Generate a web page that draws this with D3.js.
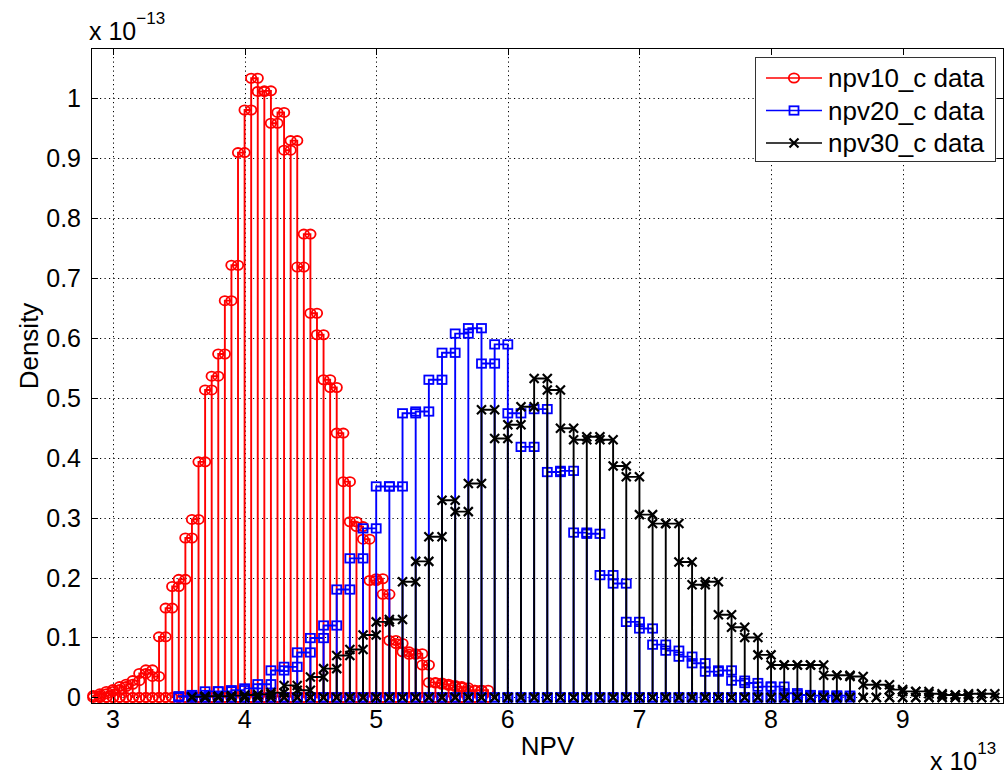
<!DOCTYPE html>
<html><head><meta charset="utf-8">
<script src="https://cdn.jsdelivr.net/npm/d3@7"></script>
<style>body{margin:0;background:#fff}</style>
</head><body><svg id="c" width="1007" height="775"></svg>
<script>
// ---------- data (densities in units of 1e-13, NPV in units of 1e13) ----------
const redStart = 2.85, redWidth = 0.05;
const redValues = [0.003,0.006,0.01,0.013,0.018,0.022,0.028,0.04,0.046,0.035,
  0.101,0.149,0.185,0.197,0.266,0.297,0.393,0.513,0.536,0.573,
  0.662,0.721,0.909,0.98,1.033,1.011,1.012,0.958,0.976,0.913,
  0.929,0.718,0.773,0.641,0.605,0.53,0.517,0.441,0.36,0.293,
  0.285,0.264,0.195,0.198,0.172,0.095,0.09,0.076,0.072,0.073,
  0.054,0.025,0.024,0.022,0.02,0.018,0.016,0.012,0.012,0.012];
const blueStart = 3.5, blueWidth = 0.1;
const blueValues = [0.002,0.004,0.01,0.01,0.012,0.015,0.022,0.045,0.051,0.075,
  0.099,0.12,0.18,0.232,0.282,0.352,0.352,0.474,0.477,0.53,
  0.575,0.607,0.616,0.557,0.589,0.474,0.418,0.481,0.376,0.378,
  0.275,0.273,0.204,0.19,0.126,0.115,0.088,0.078,0.068,0.057,
  0.043,0.045,0.028,0.024,0.018,0.018,0.007,0.004,0.003,0.003,0.003];
const blackStart = 3.6, blackWidth = 0.1;
const blackValues = [0.001,0.002,0.002,0.003,0.004,0.005,0.008,0.02,0.012,0.034,
  0.048,0.07,0.08,0.104,0.126,0.13,0.193,0.227,0.268,0.329,
  0.31,0.357,0.48,0.432,0.455,0.485,0.532,0.513,0.449,0.43,
  0.435,0.43,0.386,0.368,0.305,0.29,0.29,0.226,0.188,0.193,
  0.138,0.117,0.1,0.071,0.054,0.054,0.054,0.054,0.037,0.037,
  0.035,0.021,0.021,0.013,0.01,0.01,0.006,0.004,0.004,0.006,0.006];
const seriesNames = ["npv10_c data","npv20_c data","npv30_c data"];
const xTicks = [3,4,5,6,7,8,9];
const xTickLabels = ["3","4","5","6","7","8","9"];
const yTicks = [0,0.1,0.2,0.3,0.4,0.5,0.6,0.7,0.8,0.9,1];
const yTickLabels = ["0","0.1","0.2","0.3","0.4","0.5","0.6","0.7","0.8","0.9","1"];

// ---------- layout ----------
const L = 91, R = 1004, T = 48, B = 704;
const FONT = "'Liberation Sans', Arial, Helvetica, sans-serif";
const svg = d3.select("#c");
const x = d3.scaleLinear().domain([2.833, 9.77]).range([L, R]);
const y = d3.scaleLinear().domain([-0.011, 1.0835]).range([B, T]);

function outline(start, width, vals) {
  const pts = [];
  vals.forEach((h, i) => {
    const a = start + width * i, b = a + width;
    pts.push([a, 0], [a, h], [b, h], [b, 0]);
  });
  return pts;
}
const series = [
  {name: seriesNames[0], color: "#ff0000", marker: "circle", pts: outline(redStart, redWidth, redValues)},
  {name: seriesNames[1], color: "#0000ff", marker: "square", pts: outline(blueStart, blueWidth, blueValues)},
  {name: seriesNames[2], color: "#000000", marker: "cross", pts: outline(blackStart, blackWidth, blackValues)}
];

svg.append("rect").attr("x", L).attr("y", T).attr("width", R - L).attr("height", B - T).attr("fill", "#fff");

// grid
const grid = svg.append("g").attr("stroke", "#000").attr("stroke-width", 1).attr("stroke-dasharray", "1.2,3.3");
grid.selectAll(".gx").data(xTicks).join("line")
  .attr("x1", d => Math.round(x(d)) + 0.5).attr("x2", d => Math.round(x(d)) + 0.5)
  .attr("y1", T).attr("y2", B);
grid.selectAll(".gy").data(yTicks).join("line")
  .attr("y1", d => Math.round(y(d)) + 0.5).attr("y2", d => Math.round(y(d)) + 0.5)
  .attr("x1", L).attr("x2", R);

function drawMarker(g, m, px, py, color) {
  if (m === "circle") {
    g.append("ellipse").attr("cx", px).attr("cy", py).attr("rx", 5.2).attr("ry", 4.6)
      .attr("fill", "none").attr("stroke", color).attr("stroke-width", 1.8);
  } else if (m === "square") {
    g.append("rect").attr("x", px - 4.5).attr("y", py - 4.2).attr("width", 9).attr("height", 8.4)
      .attr("fill", "none").attr("stroke", color).attr("stroke-width", 1.8);
  } else {
    const s = 4.5;
    g.append("path").attr("d", `M${px - s},${py - s}L${px + s},${py + s}M${px - s},${py + s}L${px + s},${py - s}`)
      .attr("stroke", color).attr("stroke-width", 2.2).attr("fill", "none");
  }
}

const plot = svg.append("g");
series.forEach(s => {
  const line = d3.line().x(d => x(d[0])).y(d => y(d[1]));
  plot.append("path").attr("d", line(s.pts)).attr("fill", "none")
    .attr("stroke", s.color).attr("stroke-width", 1.9);
  const mg = plot.append("g");
  s.pts.forEach(p => drawMarker(mg, s.marker, x(p[0]), y(p[1]), s.color));
});

// axes box and ticks
const ax = svg.append("g").attr("stroke", "#000").attr("stroke-width", 1);
ax.append("rect").attr("x", L + 0.5).attr("y", T + 0.5).attr("width", R - L - 1).attr("height", B - T - 1)
  .attr("fill", "none");
const tl = 7;
xTicks.forEach(t => {
  const px = Math.round(x(t)) + 0.5;
  ax.append("line").attr("x1", px).attr("x2", px).attr("y1", B).attr("y2", B - tl);
  ax.append("line").attr("x1", px).attr("x2", px).attr("y1", T).attr("y2", T + tl);
});
yTicks.forEach(t => {
  const py = Math.round(y(t)) + 0.5;
  ax.append("line").attr("y1", py).attr("y2", py).attr("x1", L).attr("x2", L + tl);
  ax.append("line").attr("y1", py).attr("y2", py).attr("x1", R).attr("x2", R - tl);
});

// tick labels
const tlab = svg.append("g").attr("font-family", FONT).attr("font-size", 25).attr("fill", "#000");
xTicks.forEach((t, i) => {
  tlab.append("text").attr("x", x(t)).attr("y", 728).attr("text-anchor", "middle").text(xTickLabels[i]);
});
yTicks.forEach((t, i) => {
  tlab.append("text").attr("x", 81).attr("y", y(t) + 9).attr("text-anchor", "end").text(yTickLabels[i]);
});

// exponent labels
const e1 = svg.append("text").attr("font-family", FONT).attr("font-size", 25).attr("x", 89).attr("y", 40);
e1.append("tspan").text("x 10");
e1.append("tspan").attr("font-size", 17).attr("dy", -16).text("\u221213");
const e2 = svg.append("text").attr("font-family", FONT).attr("font-size", 25).attr("x", 930).attr("y", 770);
e2.append("tspan").text("x 10");
e2.append("tspan").attr("font-size", 17).attr("dy", -16).text("13");

// axis titles
svg.append("text").attr("font-family", FONT).attr("font-size", 26).attr("x", (L + R) / 2).attr("y", 755)
  .attr("text-anchor", "middle").text("NPV");
svg.append("text").attr("font-family", FONT).attr("font-size", 26)
  .attr("transform", `translate(38,${(T + B) / 2 - 30}) rotate(-90)`)
  .attr("text-anchor", "middle").text("Density");

// legend
const lg = svg.append("g");
lg.append("rect").attr("x", 755.5).attr("y", 57.5).attr("width", 240).attr("height", 104)
  .attr("fill", "#fff").attr("stroke", "#333").attr("stroke-width", 1);
series.forEach((s, i) => {
  const cy = 78 + i * 32.5;
  lg.append("line").attr("x1", 766).attr("x2", 822).attr("y1", cy).attr("y2", cy)
    .attr("stroke", s.color).attr("stroke-width", 1.5);
  drawMarker(lg, s.marker, 794, cy, s.color);
  lg.append("text").attr("x", 828).attr("y", cy + 9).attr("font-family", FONT).attr("font-size", 26)
    .text(s.name);
});
</script></body></html>
